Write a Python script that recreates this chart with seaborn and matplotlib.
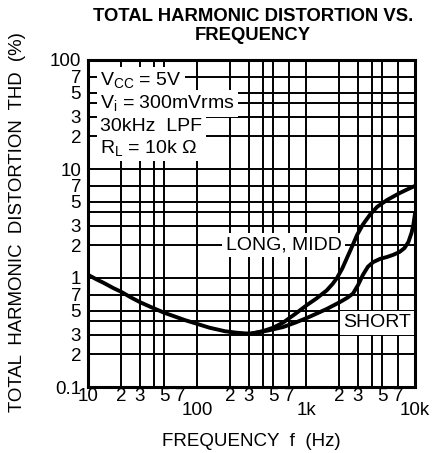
import numpy as np
import pandas as pd
import matplotlib
matplotlib.use("Agg")
import matplotlib.pyplot as plt
import seaborn as sns

# valores (Hz, %)
freq_common = [10, 12, 14, 17, 20, 25, 30, 38, 50, 60, 78, 100, 130, 180, 230, 280, 320]
thd_common = [1.07, 0.97, 0.9, 0.81, 0.75, 0.66, 0.6, 0.54, 0.48, 0.45, 0.41, 0.38, 0.35, 0.325, 0.315, 0.31, 0.31]

freq_long = [320, 400, 500, 617, 800, 1020, 1250, 1550, 1750, 1923, 2150, 2370, 2650, 2940, 3330, 3860, 4500, 5550, 7200, 8500, 10000]
thd_long = [0.31, 0.325, 0.35, 0.39, 0.47, 0.565, 0.65, 0.77, 0.88, 1.0, 1.22, 1.52, 1.95, 2.48, 3.1, 3.8, 4.5, 5.2, 6.0, 6.5, 7.0]

freq_short = [320, 450, 617, 800, 1020, 1300, 1550, 2040, 2400, 2700, 3000, 3330, 3700, 4140, 4800, 5550, 6300, 7200, 8000, 8700, 9300, 9650, 10000]
thd_short = [0.31, 0.33, 0.355, 0.39, 0.43, 0.48, 0.52, 0.6, 0.66, 0.72, 0.86, 1.07, 1.27, 1.4, 1.5, 1.56, 1.63, 1.73, 1.88, 2.14, 2.6, 3.06, 3.9]

x_major = [100, 1000, 10000]
x_major_labels = ['100', '1k', '10k']
y_major = [0.1, 1, 10, 100]
y_major_labels = ['0.1', '1', '10', '100']
minor_digits = [2, 3, 5, 7]
conditions = [r'$\mathrm{V_{CC}}$ = 5V', r'$\mathrm{V_i}$ = 300mVrms', '30kHz  LPF', r'$\mathrm{R_L}$ = 10k Ω']

sns.set_theme(style="white")
plt.rcParams['font.family'] = ['Liberation Sans', 'DejaVu Sans']
plt.rcParams['mathtext.fontset'] = 'custom'
plt.rcParams['mathtext.rm'] = 'Liberation Sans'
plt.rcParams['text.color'] = 'black'
plt.rcParams['xtick.color'] = 'black'
plt.rcParams['ytick.color'] = 'black'
plt.rcParams['xtick.labelcolor'] = 'black'
plt.rcParams['ytick.labelcolor'] = 'black'

fig = plt.figure(figsize=(4.37, 4.53), dpi=100)
ax = fig.add_axes([88 / 437, 1 - 387 / 453, 327 / 437, 327 / 453])

ax.set_xscale('log')
ax.set_yscale('log')
ax.set_xlim(10, 10000)
ax.set_ylim(0.1, 100)

# grade
for dec in [10, 100, 1000]:
    for m in [1, 2, 3, 4, 5, 7]:
        if dec == 10 and m == 7:
            continue
        ax.axvline(dec * m, color='black', lw=1.4, zorder=1)
for dec in [0.1, 1, 10]:
    for m in [1, 2, 3, 4, 5, 7]:
        ax.axhline(dec * m, color='black', lw=1.4, zorder=1)

df_c = pd.DataFrame({'f': freq_common, 'thd': thd_common})
df_l = pd.DataFrame({'f': freq_long, 'thd': thd_long})
df_s = pd.DataFrame({'f': freq_short, 'thd': thd_short})
for d in [df_c, df_l, df_s]:
    sns.lineplot(data=d, x='f', y='thd', color='black', lw=2.8, ax=ax, zorder=4)

# ticks
minor_x = [10] + [d * m for d in [10, 100, 1000] for m in minor_digits]
ax.set_xticks(x_major)
ax.set_xticklabels(x_major_labels)
ax.set_xticks(minor_x, minor=True)
ax.set_xticklabels(['10'] + [str(m) for m in minor_digits] * 3, minor=True)
ax.set_yticks(y_major)
ax.set_yticklabels(y_major_labels)
ax.set_yticks([d * m for d in [0.1, 1, 10] for m in minor_digits], minor=True)
ax.set_yticklabels([str(m) for m in minor_digits] * 3, minor=True)
ax.tick_params(axis='x', which='major', length=0, pad=11, labelsize=13.5)
ax.tick_params(axis='x', which='minor', length=0, pad=1, labelsize=13.5)
ax.tick_params(axis='y', which='both', length=0, pad=5, labelsize=13.5)
for sp in ax.spines.values():
    sp.set_linewidth(2.2)
    sp.set_color('black')
    sp.set_zorder(6)

ax.set_xlabel('')
ax.set_ylabel('')

bbox = dict(facecolor='white', edgecolor='none', pad=2.5)
cond_y = [65, 40, 24.3, 15.6]
for txt, yy in zip(conditions, cond_y):
    ax.text(12.9, yy, txt, fontsize=14, va='center', ha='left', bbox=bbox, zorder=3)

ax.text(2120, 2.0, 'LONG, MIDD', fontsize=14, va='center', ha='right', bbox=bbox, zorder=3)
ax.text(2200, 0.39, 'SHORT', fontsize=14, va='center', ha='left', bbox=bbox, zorder=3)

fig.text(253 / 437, 1 - 26 / 453, 'TOTAL HARMONIC DISTORTION VS.\nFREQUENCY',
         ha='center', va='center', fontsize=13.3, fontweight='bold', linespacing=1.15)
fig.text(18 / 437, 1 - 222 / 453, 'TOTAL  HARMONIC  DISTORTION  THD  (%)',
         rotation=90, ha='center', va='center', fontsize=13.4)
fig.text(251 / 437, 1 - 442 / 453, 'FREQUENCY  f  (Hz)', ha='center', va='center', fontsize=13.5)

fig.savefig('out.png', dpi=100, facecolor='white')
